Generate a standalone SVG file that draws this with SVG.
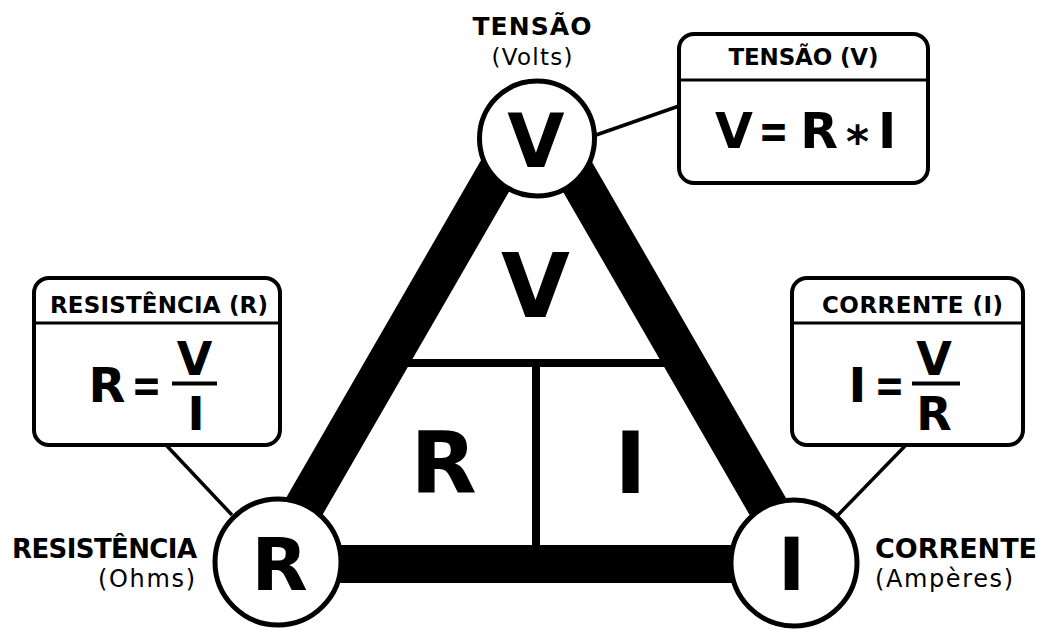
<svg xmlns="http://www.w3.org/2000/svg" width="1045" height="630" viewBox="0 0 1045 630">
<style>
  text { font-family: "DejaVu Sans", sans-serif; fill: #000; }
  .b { font-weight: 700; }
  .r { font-weight: 400; }
  .mid { text-anchor: middle; }
  .end { text-anchor: end; }
  .thick { stroke: #000; stroke-linecap: butt; fill: none; }
  .inner { stroke: #000; stroke-width: 8; fill: none; }
  .conn { stroke: #000; stroke-width: 3.5; fill: none; }
  .circ { fill: #fff; stroke: #000; stroke-width: 5; }
  .box { fill: #fff; stroke: #000; stroke-width: 4; }
  .div { stroke: #000; stroke-width: 3; }
  .fbar { stroke: #000; stroke-width: 4; }
</style>
<rect width="1045" height="630" fill="#fff"/>

<g id="triangle">
  <line class="inner" x1="400" y1="363" x2="672" y2="363"/>
  <line class="inner" x1="536" y1="363" x2="536" y2="552"/>
  <line class="thick" stroke-width="40" x1="271" y1="564" x2="536" y2="105"/>
  <line class="thick" stroke-width="40" x1="801" y1="564" x2="536" y2="105"/>
  <line class="thick" stroke-width="38" x1="278" y1="564" x2="794" y2="564"/>
  <text class="b mid" x="535.5" y="317" font-size="89">V</text>
  <text class="b mid" x="443.5" y="493" font-size="86">R</text>
  <text class="b mid" x="630.5" y="493" font-size="86">I</text>
</g>

<g id="connectors">
  <line class="conn" x1="596" y1="135" x2="679" y2="106"/>
  <line class="conn" x1="167" y1="446" x2="232" y2="515"/>
  <line class="conn" x1="905" y1="446" x2="838" y2="515"/>
</g>

<g id="node-V">
  <circle class="circ" cx="537" cy="138.5" r="57.5"/>
  <text class="b mid" x="536" y="167" font-size="74">V</text>
  <text class="b mid" x="532" y="35" font-size="25" textLength="119">TENSÃO</text>
  <text class="r mid" x="532" y="65" font-size="23" textLength="81">(Volts)</text>
</g>

<g id="node-R">
  <circle class="circ" cx="278" cy="562" r="63"/>
  <text class="b mid" x="279.5" y="590" font-size="73">R</text>
  <text class="b end" x="197" y="558" font-size="26" textLength="185">RESISTÊNCIA</text>
  <text class="r end" x="195" y="587" font-size="24" textLength="97">(Ohms)</text>
</g>

<g id="node-I">
  <circle class="circ" cx="794" cy="563" r="63"/>
  <text class="b mid" x="791.5" y="590" font-size="73">I</text>
  <text class="b" x="875" y="558" font-size="27" textLength="162">CORRENTE</text>
  <text class="r" x="875" y="587" font-size="24" textLength="138">(Ampères)</text>
</g>

<g id="box-V">
  <rect class="box" x="679" y="34" width="249" height="149" rx="15"/>
  <line class="div" x1="679" y1="80" x2="928" y2="80"/>
  <text class="b mid" x="803.5" y="65" font-size="23" textLength="150">TENSÃO (V)</text>
  <text class="b mid" x="734" y="148" font-size="49">V</text>
  <text class="b mid" x="773.5" y="148" font-size="49" textLength="30" lengthAdjust="spacingAndGlyphs">=</text>
  <text class="b mid" x="819" y="148" font-size="49">R</text>
  <text class="b mid" x="857.5" y="157" font-size="44">*</text>
  <text class="b mid" x="887" y="148" font-size="49">I</text>
</g>

<g id="box-R">
  <rect class="box" x="34" y="278" width="246" height="167" rx="15"/>
  <line class="div" x1="34" y1="323" x2="280" y2="323"/>
  <text class="b mid" x="159" y="313" font-size="23" textLength="218">RESISTÊNCIA (R)</text>
  <text class="b mid" x="107" y="402" font-size="48">R</text>
  <text class="b mid" x="146.5" y="402" font-size="48" textLength="30" lengthAdjust="spacingAndGlyphs">=</text>
  <line class="fbar" x1="172" y1="383.5" x2="217" y2="383.5"/>
  <text class="b mid" x="194.5" y="375" font-size="46">V</text>
  <text class="b mid" x="196" y="430" font-size="46">I</text>
</g>

<g id="box-I">
  <rect class="box" x="792" y="278" width="231" height="167" rx="15"/>
  <line class="div" x1="792" y1="323" x2="1023" y2="323"/>
  <text class="b mid" x="912.5" y="313" font-size="23" textLength="181">CORRENTE (I)</text>
  <text class="b mid" x="857.5" y="402" font-size="48">I</text>
  <text class="b mid" x="889.5" y="402" font-size="48" textLength="30" lengthAdjust="spacingAndGlyphs">=</text>
  <line class="fbar" x1="912" y1="383.5" x2="960" y2="383.5"/>
  <text class="b mid" x="934" y="375" font-size="46">V</text>
  <text class="b mid" x="934" y="430" font-size="46">R</text>
</g>
</svg>
